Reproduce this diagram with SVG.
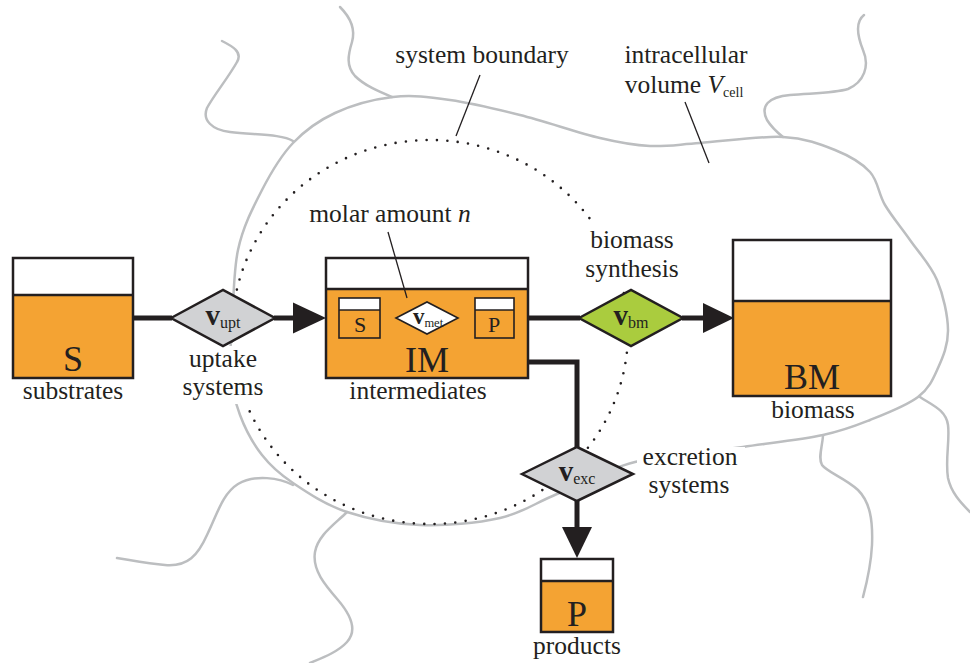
<svg xmlns="http://www.w3.org/2000/svg" width="970" height="663" viewBox="0 0 970 663">
<defs>
<style>
.g{fill:none;stroke:#BCBEC0;stroke-width:2.5;stroke-linecap:round}
.bx{stroke:#231F20;stroke-width:2.5}
.or{fill:#F4A333}
.t{font-family:"Liberation Serif","Times New Roman",serif;fill:#231F20;text-anchor:middle}
.lbl{font-size:25.5px}
.big{font-size:36px}
.conn{fill:none;stroke:#231F20;stroke-width:5}
.lead{stroke:#231F20;stroke-width:1.3;fill:none}
.bg{fill:#fff}
</style>
</defs>
<rect width="970" height="663" fill="#fff"/>
<g id="cell">
<path class="g" d="M 232,330 C 233.3,310 233,273.3 238,250 C 243,226.7 252.8,207.8 262,190 C 271.2,172.2 280.8,155.8 293,143 C 305.2,130.2 318.3,120.7 335,113 C 351.7,105.3 373.8,99.2 393,97 C 412.2,94.8 428.8,97 450,100 C 471.2,103 495,108.7 520,115 C 545,121.3 578.3,132.8 600,138 C 621.7,143.2 633.3,145.2 650,146 C 666.7,146.8 677.8,144.5 700,143 C 722.2,141.5 760.5,135.8 783,137 C 805.5,138.2 820.5,144.2 835,150 C 849.5,155.8 861.7,162.8 870,172 C 878.3,181.2 878.3,193.7 885,205 C 891.7,216.3 901.3,227.5 910,240 C 918.7,252.5 930.7,265 937,280 C 943.3,295 947.8,315.3 948,330 C 948.2,344.7 943,356.8 938,368 C 933,379.2 929.3,388.3 918,397 C 906.7,405.7 885.8,413.7 870,420 C 854.2,426.3 844.2,430.5 823,435 C 801.8,439.5 774.3,442.5 743,447 C 711.7,451.5 666,454.2 635,462 C 604,469.8 579.5,484.7 557,494 C 534.5,503.3 522.8,512.8 500,518 C 477.2,523.2 445.5,526 420,525 C 394.5,524 368.2,519 347,512 C 325.8,505 307.2,492.5 293,483 C 278.8,473.5 270.8,466.3 262,455 C 253.2,443.7 245.3,429.2 240,415 C 234.7,400.8 231.3,384.2 230,370 C 228.7,355.8 230.7,350 232,330 Z"/>
<path class="g" d="M 222,41 C 232,46 243,52 237,62 C 228,78 214,95 207,108 C 202,120 212,130 230,132 C 255,135 282,134 293,141"/>
<path class="g" d="M 340,7 C 350,17 356,28 352,42 C 348,55 346,66 355,76 C 365,86 380,92 392,97"/>
<path class="g" d="M 864,15 C 855,22 857,35 863,50 C 870,66 864,82 848,89 C 835,93 815,93 790,95 C 768,97 760,106 767,120 C 772,128 778,133 783,137"/>
<path class="g" d="M 920,397 C 932,405 946,410 948,425 C 950,440 945,460 948,478 C 951,492 960,502 970,512"/>
<path class="g" d="M 823,436 C 822,448 818,458 822,465 C 827,472 845,478 858,490 C 870,502 873,520 872,545 C 871,565 867,582 863,597"/>
<path class="g" d="M 293,485 C 280,478 255,474 238,484 C 222,494 217,515 207,535 C 198,555 188,567 165,565 C 150,564 135,561 117,558"/>
<path class="g" d="M 347,512 C 335,524 318,535 315,552 C 312,570 325,585 338,600 C 350,614 358,630 347,642 C 338,652 322,658 310,663"/>
</g>
<g id="system-boundary">
<ellipse cx="430" cy="332" rx="198" ry="192" fill="none" stroke="#231F20" stroke-width="2.6" stroke-linecap="round" stroke-dasharray="0 10.4"/>
</g>
<g id="label-backgrounds">
<rect class="bg" x="180" y="346" width="88" height="58"/>
<rect class="bg" x="580" y="225" width="104" height="64"/>
<rect class="bg" x="637" y="447" width="108" height="55"/>
</g>
<g id="connectors">
<line class="conn" x1="133" y1="318" x2="172" y2="318"/>
<line class="conn" x1="274" y1="318" x2="296" y2="318"/>
<polygon points="293,302.5 326,318 293,333.5" fill="#231F20"/>
<line class="conn" x1="528" y1="318" x2="580" y2="318"/>
<line class="conn" x1="682" y1="318" x2="706" y2="318"/>
<polygon points="703,303 734,318 703,333" fill="#231F20"/>
<polyline class="conn" points="528,362 577,362 577,449" stroke-linejoin="miter"/>
<line class="conn" x1="577" y1="500" x2="577" y2="530"/>
<polygon points="562,527 577,558 592,527" fill="#231F20"/>
<line x1="396" y1="318" x2="386" y2="318" stroke="#231F20" stroke-width="1.6"/>
<polygon points="388,313.5 380,318 388,322.5" fill="#231F20"/>
<line x1="458" y1="318" x2="468" y2="318" stroke="#231F20" stroke-width="1.6"/>
<polygon points="467,313.5 475,318 467,322.5" fill="#231F20"/>
</g>
<g id="node-S">
<rect x="13" y="258" width="120" height="120" fill="#fff"/>
<rect class="or" x="13" y="295" width="120" height="83"/>
<rect class="bx" x="13" y="258" width="120" height="120" fill="none"/>
<line class="bx" x1="13" y1="295" x2="133" y2="295"/>
<text class="t big" x="73" y="371">S</text>
<text class="t lbl" x="73" y="399">substrates</text>
</g>
<g id="node-vupt">
<polygon class="bx" points="171,318 223,290 275,318 223,346" fill="#D1D2D4"/>
<text class="t" x="223" y="325"><tspan font-size="29" font-weight="bold">v</tspan><tspan font-size="16" dy="3">upt</tspan></text>
<text class="t lbl" x="223" y="367">uptake</text>
<text class="t lbl" x="223" y="395">systems</text>
</g>
<g id="node-IM">
<rect x="326" y="258" width="202" height="120" fill="#fff"/>
<rect class="or" x="326" y="289" width="202" height="89"/>
<rect class="bx" x="326" y="258" width="202" height="120" fill="none"/>
<line class="bx" x1="326" y1="289" x2="528" y2="289"/>
<text class="t big" x="427" y="372">IM</text>
<text class="t lbl" x="418" y="399">intermediates</text>
<g id="node-IM-S">
<rect x="339" y="298" width="41" height="40" fill="#fff"/>
<rect class="or" x="339" y="310" width="41" height="28"/>
<rect x="339" y="298" width="41" height="40" fill="none" stroke="#231F20" stroke-width="1.6"/>
<line x1="339" y1="310" x2="380" y2="310" stroke="#231F20" stroke-width="1.6"/>
<text class="t" x="360" y="332" font-size="22">S</text>
</g>
<g id="node-IM-P">
<rect x="475" y="298" width="39" height="40" fill="#fff"/>
<rect class="or" x="475" y="310" width="39" height="28"/>
<rect x="475" y="298" width="39" height="40" fill="none" stroke="#231F20" stroke-width="1.6"/>
<line x1="475" y1="310" x2="514" y2="310" stroke="#231F20" stroke-width="1.6"/>
<text class="t" x="494" y="332" font-size="22">P</text>
</g>
<g id="node-vmet">
<polygon points="396,318 427,302 458,318 427,334" fill="#fff" stroke="#231F20" stroke-width="1.6"/>
<text class="t" x="428" y="324"><tspan font-size="23" font-weight="bold">v</tspan><tspan font-size="12.5" dy="3">met</tspan></text>
</g>
</g>
<g id="node-vbm">
<polygon class="bx" points="579,318 631,290 683,318 631,346" fill="#AACC3E"/>
<text class="t" x="631" y="325"><tspan font-size="29" font-weight="bold">v</tspan><tspan font-size="16" dy="3">bm</tspan></text>
<text class="t lbl" x="632" y="248">biomass</text>
<text class="t lbl" x="632" y="277">synthesis</text>
</g>
<g id="node-BM">
<rect x="733" y="240" width="158" height="156" fill="#fff"/>
<rect class="or" x="733" y="301" width="158" height="95"/>
<rect class="bx" x="733" y="240" width="158" height="156" fill="none"/>
<line class="bx" x1="733" y1="301" x2="891" y2="301"/>
<text class="t big" x="812" y="389">BM</text>
<text class="t lbl" x="813" y="418">biomass</text>
</g>
<g id="node-vexc">
<polygon class="bx" points="522,474 577,447 633,474 577,501" fill="#D1D2D4"/>
<text class="t" x="577" y="481"><tspan font-size="29" font-weight="bold">v</tspan><tspan font-size="16" dy="3">exc</tspan></text>
<text class="t lbl" x="690" y="465">excretion</text>
<text class="t lbl" x="689" y="493">systems</text>
</g>
<g id="node-P">
<rect x="541" y="559" width="72" height="73" fill="#fff"/>
<rect class="or" x="541" y="581" width="72" height="51"/>
<rect class="bx" x="541" y="559" width="72" height="73" fill="none"/>
<line class="bx" x1="541" y1="581" x2="613" y2="581"/>
<text class="t big" x="577" y="626">P</text>
<text class="t lbl" x="577" y="654">products</text>
</g>
<g id="annotations">
<text class="t lbl" x="482" y="63">system boundary</text>
<line class="lead" x1="480" y1="75" x2="456" y2="136"/>
<text class="t lbl" x="686" y="63">intracellular</text>
<text class="t lbl" x="684" y="93">volume <tspan font-style="italic">V</tspan><tspan font-size="14" dy="4">cell</tspan></text>
<line class="lead" x1="685" y1="102" x2="709" y2="163"/>
<text class="t lbl" x="390" y="222">molar amount <tspan font-style="italic">n</tspan></text>
<line class="lead" x1="388" y1="232" x2="407" y2="298"/>
</g>
</svg>
